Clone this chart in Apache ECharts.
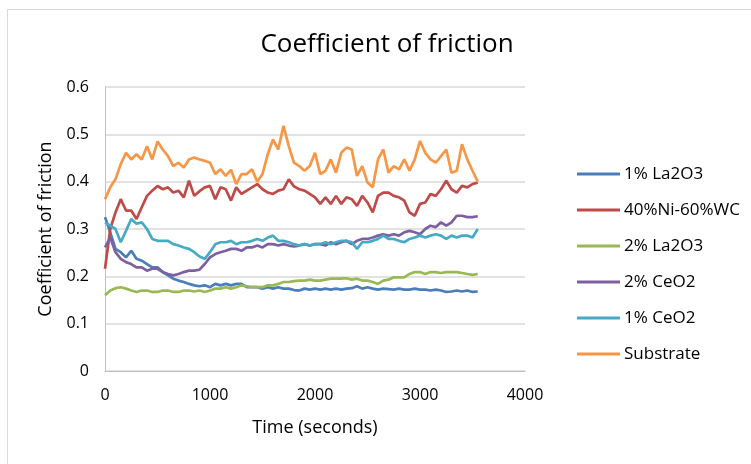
<!DOCTYPE html>
<html>
<head>
<meta charset="utf-8">
<script src="https://cdn.jsdelivr.net/npm/echarts@6/dist/echarts.min.js"></script>
<style>
html,body{margin:0;padding:0;background:#fff;}
#chart{width:751px;height:464px;}
</style>
</head>
<body>
<div id="chart"></div>
<script>
var times = [0,50,100,150,200,250,300,350,400,450,500,550,600,650,700,750,800,850,900,950,
1000,1050,1100,1150,1200,1250,1300,1350,1400,1450,1500,1550,1600,1650,1700,1750,1800,1850,1900,1950,
2000,2050,2100,2150,2200,2250,2300,2350,2400,2450,2500,2550,2600,2650,2700,2750,2800,2850,2900,2950,
3000,3050,3100,3150,3200,3250,3300,3350,3400,3450,3500,3550];

var la2o3_1 = [0.325,0.293,0.258,0.251,0.240,0.254,0.237,0.233,0.226,0.219,0.219,0.209,0.202,0.195,0.191,0.188,0.184,0.181,0.179,0.181,
0.177,0.184,0.181,0.184,0.181,0.184,0.184,0.177,0.177,0.177,0.174,0.177,0.174,0.177,0.174,0.174,0.171,0.170,0.174,0.172,
0.174,0.172,0.174,0.172,0.174,0.172,0.174,0.175,0.179,0.174,0.177,0.174,0.172,0.174,0.173,0.172,0.174,0.172,0.172,0.174,
0.172,0.172,0.170,0.172,0.170,0.167,0.168,0.170,0.168,0.170,0.167,0.168];

var niwc = [0.216,0.300,0.335,0.363,0.339,0.339,0.321,0.346,0.370,0.381,0.391,0.384,0.388,0.377,0.381,0.367,0.402,0.370,0.380,0.388,
0.391,0.363,0.388,0.384,0.360,0.388,0.374,0.381,0.388,0.395,0.384,0.377,0.374,0.381,0.384,0.405,0.390,0.384,0.381,0.374,
0.367,0.353,0.367,0.353,0.370,0.353,0.367,0.363,0.349,0.370,0.356,0.335,0.370,0.377,0.377,0.370,0.367,0.360,0.335,0.328,
0.353,0.356,0.374,0.370,0.384,0.402,0.384,0.377,0.391,0.388,0.395,0.398];

var la2o3_2 = [0.160,0.170,0.175,0.177,0.174,0.170,0.167,0.170,0.170,0.167,0.167,0.170,0.170,0.167,0.167,0.170,0.170,0.168,0.170,0.167,
0.170,0.174,0.174,0.177,0.174,0.177,0.181,0.179,0.177,0.177,0.177,0.181,0.181,0.184,0.188,0.188,0.190,0.191,0.191,0.193,
0.191,0.191,0.193,0.195,0.195,0.195,0.196,0.193,0.195,0.191,0.191,0.188,0.184,0.191,0.193,0.198,0.198,0.198,0.205,0.209,
0.209,0.205,0.209,0.209,0.207,0.209,0.209,0.209,0.207,0.205,0.203,0.205];

var ceo2_2 = [0.261,0.282,0.251,0.237,0.230,0.226,0.219,0.219,0.212,0.216,0.216,0.209,0.205,0.202,0.205,0.209,0.212,0.212,0.214,0.226,
0.240,0.247,0.251,0.254,0.258,0.258,0.254,0.261,0.261,0.265,0.261,0.268,0.268,0.265,0.268,0.265,0.263,0.265,0.268,0.265,
0.268,0.268,0.265,0.272,0.268,0.272,0.275,0.268,0.275,0.279,0.279,0.282,0.286,0.289,0.286,0.289,0.286,0.293,0.296,0.293,
0.289,0.300,0.307,0.304,0.314,0.307,0.314,0.328,0.328,0.325,0.325,0.327];

var ceo2_1 = [0.314,0.307,0.300,0.272,0.296,0.321,0.311,0.314,0.300,0.279,0.275,0.275,0.275,0.268,0.265,0.261,0.258,0.251,0.242,0.237,
0.251,0.268,0.272,0.272,0.275,0.268,0.272,0.272,0.275,0.279,0.275,0.282,0.286,0.275,0.275,0.272,0.268,0.265,0.268,0.265,
0.268,0.268,0.272,0.268,0.272,0.275,0.275,0.272,0.258,0.272,0.272,0.275,0.279,0.286,0.279,0.279,0.275,0.272,0.279,0.282,
0.286,0.282,0.286,0.289,0.286,0.279,0.286,0.282,0.286,0.286,0.282,0.300];

var substrate = [0.363,0.388,0.405,0.437,0.461,0.447,0.458,0.447,0.475,0.447,0.485,0.468,0.454,0.433,0.440,0.430,0.447,0.451,0.447,0.444,
0.440,0.416,0.426,0.412,0.425,0.395,0.416,0.416,0.426,0.400,0.416,0.458,0.489,0.468,0.518,0.475,0.440,0.433,0.423,0.433,
0.461,0.416,0.423,0.447,0.419,0.461,0.472,0.468,0.412,0.433,0.398,0.388,0.447,0.468,0.419,0.433,0.426,0.447,0.423,0.447,
0.486,0.461,0.447,0.440,0.454,0.468,0.419,0.423,0.479,0.447,0.423,0.400];

var seriesNames = ['1% La2O3','40%Ni-60%WC','2% La2O3','2% CeO2','1% CeO2','Substrate'];
var seriesValues = [la2o3_1, niwc, la2o3_2, ceo2_2, ceo2_1, substrate];
var seriesColors = ['#4A7EBB','#BE4B48','#98B954','#7D60A0','#46AAC5','#F79646'];

var FONT = '"Open Sans", sans-serif';

function pairs(vals){
  var out = [];
  for (var i = 0; i < times.length; i++) out.push([times[i], vals[i]]);
  return out;
}

var chart = echarts.init(document.getElementById('chart'), null, {renderer:'canvas'});
var series = seriesNames.map(function(n, i){
  return {
    name: n, type: 'line', data: pairs(seriesValues[i]),
    showSymbol: false, symbol: 'none', smooth: false,
    lineStyle: {width: 2.7, color: seriesColors[i]},
    itemStyle: {color: seriesColors[i]},
    emphasis: {disabled: true},
    animation: false
  };
});

chart.setOption({
  animation: false,
  backgroundColor: '#fff',
  graphic: [{
    type: 'rect', left: 5, top: 7, shape: {width: 800, height: 500},
    style: {fill: 'none', stroke: '#d9d9d9', lineWidth: 1}, silent: true, z: -10
  }],
  title: {
    text: 'Coefficient of friction',
    left: 382, top: 27, textAlign: 'center',
    textStyle: {fontFamily: FONT, fontSize: 26, fontWeight: 'normal', color: '#000'}
  },
  legend: {
    orient: 'vertical', left: 577, top: 165, padding: 0,
    itemWidth: 43, itemHeight: 3, itemGap: 18,
    icon: 'rect',
    data: seriesNames,
    textStyle: {fontFamily: FONT, fontSize: 17, color: '#000', lineHeight: 18, padding: [0,0,0,-1]}
  },
  grid: {left: 105, right: 226, top: 87, bottom: 93, containLabel: false},
  xAxis: {
    type: 'value', min: 0, max: 4000, interval: 1000,
    name: 'Time (seconds)', nameLocation: 'middle', nameGap: 48,
    nameTextStyle: {fontFamily: FONT, fontSize: 18, color: '#000'},
    axisLine: {show: true, lineStyle: {color: '#bfbfbf', width: 1}},
    axisTick: {show: false},
    axisLabel: {fontFamily: FONT, fontSize: 16, color: '#000', margin: 16,
      formatter: function(v){ return String(v); }},
    splitLine: {show: false}
  },
  yAxis: {
    type: 'value', min: 0, max: 0.6, interval: 0.1,
    name: 'Coefficient of friction', nameLocation: 'middle', nameGap: 50,
    nameTextStyle: {fontFamily: FONT, fontSize: 18, color: '#000'},
    axisLine: {show: true, lineStyle: {color: '#bfbfbf', width: 1}},
    axisTick: {show: false},
    axisLabel: {fontFamily: FONT, fontSize: 16, color: '#000', margin: 16},
    splitLine: {show: true, lineStyle: {color: '#d9d9d9', width: 1.5}}
  },
  series: series
});
</script>
</body>
</html>
